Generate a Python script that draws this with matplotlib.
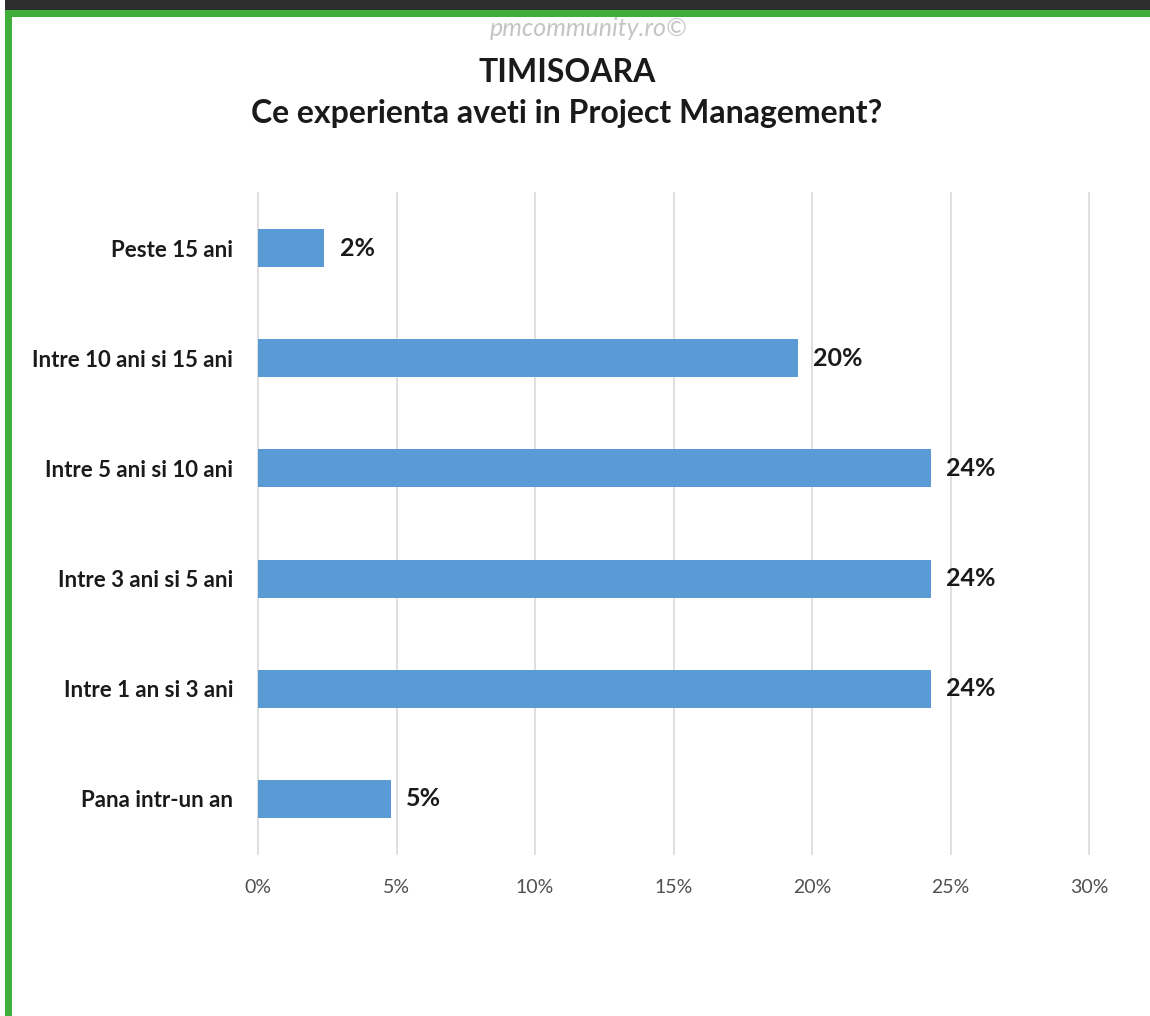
import matplotlib
matplotlib.use("Agg")
import matplotlib.pyplot as plt
from matplotlib.patches import Rectangle

plt.rcParams['font.family'] = ['Lato', 'DejaVu Sans']

# data (bottom to top)
categories = ['Pana intr-un an', 'Intre 1 an si 3 ani', 'Intre 3 ani si 5 ani',
              'Intre 5 ani si 10 ani', 'Intre 10 ani si 15 ani', 'Peste 15 ani']
values = [4.8, 24.3, 24.3, 24.3, 19.5, 2.4]
labels = ['5%', '24%', '24%', '24%', '20%', '2%']
xticks = [0, 5, 10, 15, 20, 25, 30]
xticklabels = ['0%', '5%', '10%', '15%', '20%', '25%', '30%']

W, H = 1150, 1016
fig = plt.figure(figsize=(W/100, H/100), dpi=100)
fig.patch.set_facecolor('white')

# frame: dark band on top, green lines top and left
fig.patches.append(Rectangle((5/W, 1-10/H), 1, 10/H, transform=fig.transFigure,
                             facecolor='#2e2e2e', edgecolor='none'))
fig.patches.append(Rectangle((5/W, 1-17/H), 1, 7/H, transform=fig.transFigure,
                             facecolor='#3fae3a', edgecolor='none'))
fig.patches.append(Rectangle((5/W, 0), 7/W, 1-10/H, transform=fig.transFigure,
                             facecolor='#3fae3a', edgecolor='none'))

fig.text(589/W, 1-28/H, 'pmcommunity.ro©', ha='center', va='center',
         fontsize=18, style='italic', color='#c4c4c4')
fig.text(567/W, 1-73/H, 'TIMISOARA', ha='center', va='center',
         fontsize=23, fontweight='bold', color='#1a1a1a')
fig.text(567/W, 1-113/H, 'Ce experienta aveti in Project Management?', ha='center',
         va='center', fontsize=23, fontweight='bold', color='#1a1a1a')

ax = fig.add_axes([258/W, 1-854/H, (1089-258)/W, (854-193)/H])
ypos = range(len(categories))
ax.barh(ypos, values, height=0.345, color='#5b9bd5', zorder=3)
for y, v, t in zip(ypos, values, labels):
    ax.text(v + 0.55, y, t, ha='left', va='center', fontsize=18,
            fontweight='bold', color='#1a1a1a')

ax.set_xlim(0, 30)
ax.set_ylim(-0.5, len(categories) - 0.5)
ax.set_xticks(xticks)
ax.set_xticklabels(xticklabels, fontsize=14, color='#505050')
ax.set_yticks(list(ypos))
ax.set_yticklabels(categories, fontsize=16, fontweight='bold', color='#1a1a1a')
ax.tick_params(axis='both', length=0)
ax.tick_params(axis='x', pad=18)
ax.tick_params(axis='y', pad=18)
ax.grid(axis='x', color='#d9d9d9', linewidth=1.2, zorder=0)
for gl in ax.get_xgridlines():
    gl.set_clip_on(False)
for s in ax.spines.values():
    s.set_visible(False)

fig.savefig('out.png', dpi=100)
